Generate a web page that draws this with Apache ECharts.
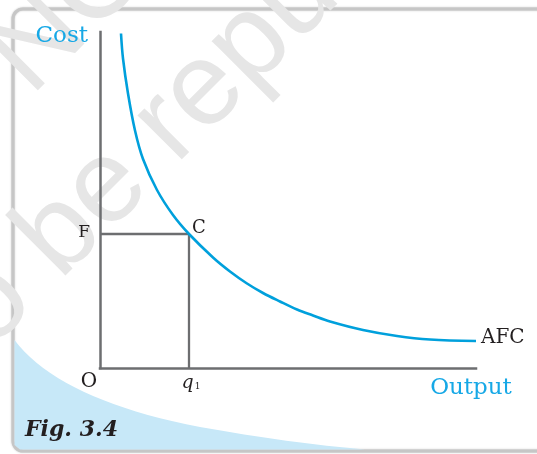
<!DOCTYPE html>
<html>
<head>
<meta charset="utf-8">
<script src="https://cdn.jsdelivr.net/npm/echarts@6/dist/echarts.min.js"></script>
<style>
html, body { margin: 0; padding: 0; background: #fff; }
#main { width: 537px; height: 454px; }
</style>
</head>
<body>
<div id="main"></div>
<script>
// AFC curve (output, cost)
let afcOutput = [21, 23, 28, 35, 43, 57, 73, 89, 113, 130, 147, 163, 180, 197, 213, 230, 263, 297, 330, 376]
let afcCost = [334.5, 309.5, 274.5, 237.5, 209, 178, 153, 134, 110.5, 96.5, 84.5, 75, 66.5, 58.5, 52.5, 46.5, 38, 32, 28.5, 27]

// point C on the curve
let q1 = 89
let fixedCost = 134

let xMax = 376
let yMax = 336

let blue = '#00a0dc'
let labelBlue = '#16a8e6'
let axisGrey = '#6d6e70'
let ink = '#231f20'
let serif = 'DejaVu Serif'

let myChart = echarts.init(document.getElementById('main'))

let curve = afcOutput.map((x, i) => [x, afcCost[i]])

// light blue corner of the page, two quadratic bezier pieces
function quad(p0, p1, p2, pts) {
    for (let t = 0; t <= 1.0001; t += 0.05) {
        let a = (1 - t) * (1 - t), b = 2 * (1 - t) * t, c = t * t
        pts.push([a * p0[0] + b * p1[0] + c * p2[0], a * p0[1] + b * p1[1] + c * p2[1]])
    }
    return pts
}
let corner = []
quad([14.5, 340], [60, 400], [200, 427], corner)
quad([200, 427], [290, 443], [365, 449.5], corner)
corner.push([20, 449.5], [14.5, 445])

let wmStyle = { fill: '#e6e6e6', font: '118px "Liberation Sans"', verticalAlign: 'middle' }
function wm(text, x, y, align) {
    return {
        type: 'text', x: x, y: y, rotation: Math.PI / 4, z: 1, silent: true,
        style: Object.assign({ text: text, textAlign: align }, wmStyle)
    }
}

function pointLabel(text, position, size, distance, offset) {
    return { show: true, formatter: text, position: position, distance: distance, offset: offset, color: ink, fontFamily: serif, fontSize: size }
}

let option = {
    animation: false,
    backgroundColor: '#fff',
    grid: { left: 100, top: 32, width: 376, height: 336 },
    graphic: [
        {
            type: 'rect', z: 0, silent: true,
            shape: { x: 13, y: 9, width: 540, height: 442, r: 10 },
            style: { fill: '#fff', stroke: '#c6c6c6', lineWidth: 3, shadowColor: 'rgba(0,0,0,0.25)', shadowBlur: 2 }
        },
        {
            type: 'polygon', z: 0, silent: true,
            shape: { points: corner },
            style: { fill: '#c7e8f8' }
        },
        wm('be republished', 37, 258, 'left'),
        wm('not to ', 37, 258, 'right'),
        wm('NCERT', 8, 74, 'left'),
        wm('\u00a9 ', 8, 74, 'right'),
        {
            type: 'text', z: 5, left: 25, top: 419,
            style: { text: 'Fig. 3.4', fill: ink, font: 'italic bold 22px "DejaVu Serif"' }
        }
    ],
    xAxis: {
        type: 'value', min: 0, max: xMax, z: 5,
        name: 'Output', nameLocation: 'end', nameGap: -5,
        nameTextStyle: { color: labelBlue, fontFamily: serif, fontSize: 23, align: 'center', verticalAlign: 'top', padding: [9, 0, 0, 0] },
        axisLine: { show: true, onZero: false, lineStyle: { color: axisGrey, width: 2.5, cap: 'square' } },
        axisTick: { show: false }, axisLabel: { show: false }, splitLine: { show: false }
    },
    yAxis: {
        type: 'value', min: 0, max: yMax, z: 5,
        name: 'Cost', nameLocation: 'end', nameGap: -4,
        nameTextStyle: { color: labelBlue, fontFamily: serif, fontSize: 23, align: 'right', verticalAlign: 'middle', padding: [0, 12, 0, 0] },
        axisLine: { show: true, onZero: false, lineStyle: { color: axisGrey, width: 2.5, cap: 'square' } },
        axisTick: { show: false }, axisLabel: { show: false }, splitLine: { show: false }
    },
    series: [
        {
            type: 'line', z: 3,
            data: [[0, fixedCost], [q1, fixedCost], [q1, 0]],
            symbol: 'none',
            lineStyle: { color: axisGrey, width: 2.3 }
        },
        {
            type: 'line', z: 4, name: 'AFC',
            data: curve,
            smooth: 0.35,
            symbol: 'none',
            lineStyle: { color: blue, width: 2.6 },
            endLabel: { show: true, formatter: 'AFC', color: ink, fontFamily: serif, fontSize: 20, distance: 5, offset: [0, -3] }
        },
        {
            type: 'scatter', z: 5,
            symbolSize: 0,
            itemStyle: { opacity: 1 },
            data: [
                { value: [0, fixedCost], label: pointLabel('F', 'left', 17, 10, [0, -1]) },
                { value: [q1, fixedCost], label: pointLabel('C', 'right', 18, 3, [0, -6]) },
                { value: [0, 0], label: pointLabel('O', 'bottom', 20, 4, [-11, 0]) },
                {
                    value: [q1, 0],
                    label: {
                        show: true, formatter: '{q|q}{s|1}', position: 'bottom', distance: 6, offset: [2, 0],
                        rich: {
                            q: { fontFamily: serif, fontStyle: 'italic', fontSize: 19, color: ink },
                            s: { fontFamily: serif, fontSize: 9, color: ink, padding: [7, 0, 0, 1] }
                        }
                    }
                }
            ]
        }
    ]
}

myChart.setOption(option)
</script>
</body>
</html>
